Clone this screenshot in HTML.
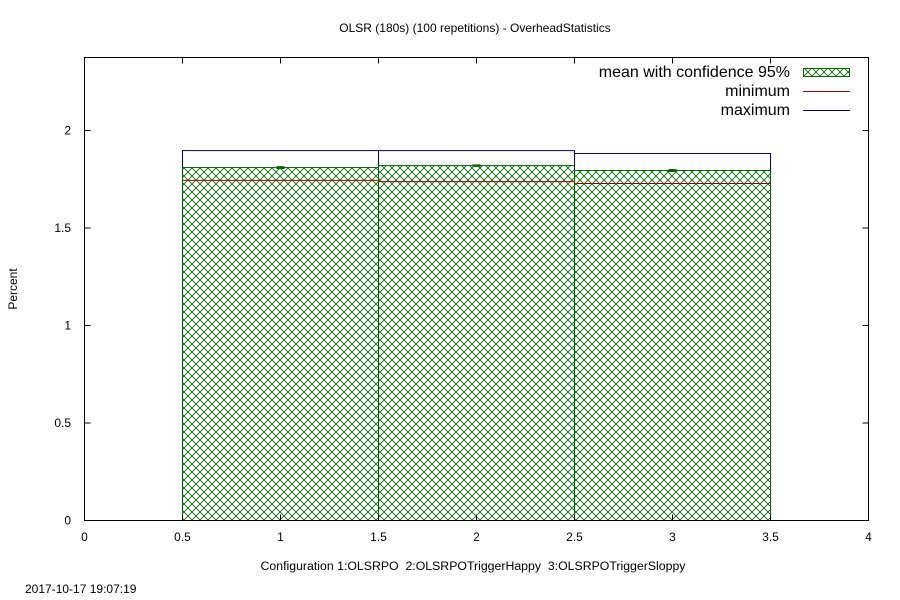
<!DOCTYPE html>
<html><head><meta charset="utf-8"><style>
body{margin:0;background:#fff;}
svg{display:block;font-family:"Liberation Sans",sans-serif;}
</style></head><body>
<svg id="chart" width="900" height="600" viewBox="0 0 900 600">
<defs>
<pattern id="hatch" width="8" height="8" patternUnits="userSpaceOnUse">
<path d="M0,0 L8,8 M8,0 L0,8" stroke="#006400" stroke-width="0.8"/>
</pattern>
</defs>
<text x="475" y="32" font-size="12" text-anchor="middle">OLSR (180s) (100 repetitions) - OverheadStatistics</text>
<text transform="translate(17,289) rotate(-90)" font-size="12" text-anchor="middle">Percent</text>
<text x="473" y="570" font-size="12.3" text-anchor="middle" xml:space="preserve">Configuration 1:OLSRPO  2:OLSRPOTriggerHappy  3:OLSRPOTriggerSloppy</text>
<text x="25" y="593" font-size="12">2017-10-17 19:07:19</text>
<g id="marks"></g>
<g id="axes"></g>
<rect x="84.5" y="57.5" width="784" height="463" fill="none" stroke="#000" stroke-width="1"/>
<g font-size="16">
<text x="790" y="77" text-anchor="end">mean with confidence 95%</text>
<rect x="803.5" y="68.5" width="46" height="8" fill="url(#hatch)" stroke="#006400"/>
<text x="790" y="96" text-anchor="end">minimum</text>
<line x1="803" x2="850" y1="91.5" y2="91.5" stroke="#b00000"/>
<text x="790" y="115" text-anchor="end">maximum</text>
<line x1="803" x2="850" y1="110.5" y2="110.5" stroke="#00008b"/>
</g>
</svg>
<script>
const categories=[1,2,3];
const meanValues=[1.81,1.82,1.795];
const errValues=[0.005,0.004,0.005];
const minValues=[1.744,1.738,1.728];
const maxValues=[1.897,1.897,1.882];
const xTicks=[0,0.5,1,1.5,2,2.5,3,3.5,4];
const yTicks=[0,0.5,1,1.5,2];
const L=84.5,R=868.5,T=57.5,B=520.5;
const X=v=>L+(R-L)*v/4;
const Y=v=>B-195*v;
const NS="http://www.w3.org/2000/svg";
const marks=document.getElementById('marks'),axes=document.getElementById('axes');
function mk(tag,attrs,parent){const e=document.createElementNS(NS,tag);for(const k in attrs)e.setAttribute(k,attrs[k]);parent.appendChild(e);return e;}
categories.forEach((c,i)=>{
  const x0=X(c-0.5),x1=X(c+0.5);
  let r=mk('rect',{x:x0,y:Y(maxValues[i]),width:x1-x0,height:B-Y(maxValues[i]),fill:'none',stroke:'#00008b'},marks);
  
  
  r=mk('rect',{x:x0,y:Y(meanValues[i]),width:x1-x0,height:B-Y(meanValues[i]),fill:'url(#hatch)',stroke:'#006400'},marks);
  
  
  r=mk('line',{x1:x0,x2:x1,y1:Y(minValues[i]),y2:Y(minValues[i]),stroke:'#b00000'},marks);
  
  
  const xc=X(c),yh=Y(meanValues[i]+errValues[i]),yl=Y(meanValues[i]-errValues[i]);
  r=mk('path',{d:`M${xc},${yh}V${yl}M${xc-4},${yh}H${xc+4}M${xc-4},${yl}H${xc+4}`,stroke:'#006400',fill:'none'},marks);
  
  
});
xTicks.forEach(v=>{
  const x=X(v);
  let t=mk('path',{d:`M${x},${B}v-6M${x},${T}v6`,stroke:'#000'},axes);
  
  
  t=mk('text',{x:x,y:541,'font-size':12,'text-anchor':'middle'},axes);t.textContent=v;
  
  
});
yTicks.forEach(v=>{
  const y=Y(v);
  let t=mk('path',{d:`M${L},${y}h6M${R},${y}h-6`,stroke:'#000'},axes);
  
  
  t=mk('text',{x:71,y:y+4,'font-size':12,'text-anchor':'end'},axes);t.textContent=v;
  
  
});
</script>
</body></html>
